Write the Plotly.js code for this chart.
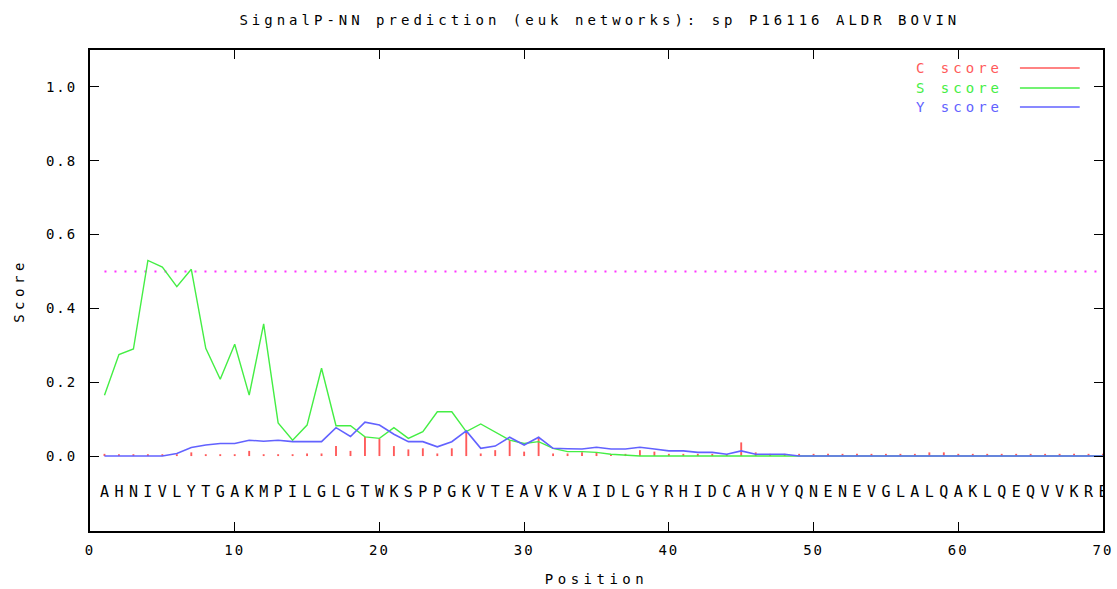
<!DOCTYPE html>
<html><head><meta charset="utf-8">
<script src="https://cdn.plot.ly/plotly-3.0.1.min.js"></script>
<style>
html,body{margin:0;padding:0;background:#fff;}
#chart{width:1117px;height:589px;}
.gtitle{letter-spacing:4px;}
.xtitle,.ytitle{letter-spacing:4.5px;}
.xtick text,.ytick text{letter-spacing:2px;}
.annotation-text{letter-spacing:4px;}
</style>
</head><body><div id="chart"></div>
<script>
const residues = "AHNIVLYTGAKMPILGLGTWKSPPGKVTEAVKVAIDLGYRHIDCAHVYQNENEVGLALQAKLQEQVVKRE".split("");
const positions = residues.map((_, i) => i + 1);

const cScore = [0.006,0.005,0.005,0.005,0.005,0.005,0.010,0.005,0.005,0.005,
                0.014,0.005,0.005,0.005,0.007,0.007,0.027,0.014,0.052,0.047,
                0.027,0.018,0.021,0.007,0.021,0.066,0.007,0.016,0.043,0.012,
                0.052,0.007,0.007,0.010,0.010,0.004,0.006,0.016,0.012,0.006,
                0.006,0.006,0.006,0.005,0.037,0.010,0.006,0.006,0.006,0.006,
                0.006,0.006,0.006,0.006,0.006,0.006,0.006,0.010,0.010,0.006,
                0.006,0.006,0.006,0.006,0.006,0.006,0.006,0.006,0.006,0.006];
const sScore = [0.165,0.275,0.290,0.530,0.512,0.459,0.506,0.292,0.208,0.303,
                0.165,0.358,0.090,0.043,0.084,0.238,0.082,0.082,0.052,0.048,
                0.077,0.048,0.066,0.120,0.120,0.066,0.087,0.066,0.043,0.034,
                0.039,0.021,0.012,0.012,0.010,0.005,0.002,0,0,0,
                0,0,0,0,0,0,0,0,0,0,
                0,0,0,0,0,0,0,0,0,0,
                0,0,0,0,0,0,0,0,0,0];
const yScore = [0,0,0,0,0,0.007,0.023,0.030,0.034,0.034,
                0.043,0.040,0.043,0.039,0.039,0.039,0.077,0.053,0.092,0.084,
                0.059,0.039,0.039,0.025,0.039,0.068,0.021,0.027,0.051,0.030,
                0.051,0.021,0.020,0.019,0.024,0.019,0.019,0.024,0.019,0.014,
                0.014,0.010,0.010,0.005,0.014,0.005,0.005,0.005,0,0,
                0,0,0,0,0,0,0,0,0,0,
                0,0,0,0,0,0,0,0,0,0];
const cutoff = 0.5;
const seqLabelY = -0.1;
const xTicks = [0,10,20,30,40,50,60,70];
const yTicks = [0,0.2,0.4,0.6,0.8,1.0];
const seriesNames = ["C score","S score","Y score"];
const seriesColors = ["#ff5a5a","#44ee44","#6262ff"];

const mono = "DejaVu Sans Mono, monospace";

const traces = [
  {type:"bar", x:positions, y:cScore, width:0.13, marker:{color:seriesColors[0], line:{width:0}}, name:seriesNames[0], hoverinfo:"x+y"},
  {type:"scatter", mode:"lines", x:[positions[0], positions[positions.length-1]], y:[cutoff, cutoff],
   line:{color:"#ff33ff", width:2, dash:"2px,8px"}, hoverinfo:"skip"},
  {type:"scatter", mode:"lines", x:positions, y:sScore, line:{color:seriesColors[1], width:1.4}, name:seriesNames[1]},
  {type:"scatter", mode:"lines", x:positions, y:yScore, line:{color:seriesColors[2], width:1.6}, name:seriesNames[2]},
  {type:"scatter", mode:"text", x:positions, y:positions.map(() => seqLabelY), text:residues,
   textfont:{family:mono, size:15, color:"#000"}, textposition:"middle center", hoverinfo:"skip"}
];

const legendY = [0.9626, 0.921, 0.8815];
const annotations = seriesNames.map((n, i) => ({
  xref:"paper", yref:"paper", x:0.903, y:legendY[i], xanchor:"right", yanchor:"middle",
  text:n, showarrow:false, font:{family:mono, size:14, color:seriesColors[i]}
}));
const shapes = seriesNames.map((n, i) => ({
  type:"line", xref:"paper", yref:"paper", x0:0.918, x1:0.977, y0:legendY[i], y1:legendY[i],
  line:{color:seriesColors[i], width:1.5}
}));

const layout = {
  width:1117, height:589,
  margin:{l:90, r:14, t:50, b:58},
  paper_bgcolor:"#fff", plot_bgcolor:"#fff",
  showlegend:false,
  barmode:"overlay",
  title:{text:"SignalP-NN prediction (euk networks): sp P16116 ALDR BOVIN", xref:"container", x:0.537, xanchor:"center",
         yref:"container", y:0.966, yanchor:"middle", font:{family:mono, size:14, color:"#000"}},
  xaxis:{range:[0,70], tickvals:xTicks, ticktext:xTicks.map(String), ticks:"inside", ticklen:9, tickwidth:1, tickcolor:"#000",
         showline:true, linecolor:"#000", linewidth:2, mirror:"ticks", showgrid:false, zeroline:false,
         tickfont:{family:mono, size:14, color:"#000"}, ticklabelstandoff:5,
         title:{text:"Position", font:{family:mono, size:14, color:"#000"}, standoff:17}},
  yaxis:{range:[-0.203,1.1], tickvals:yTicks, ticktext:yTicks.map(v => v.toFixed(1)), ticks:"inside", ticklen:9, tickwidth:1, tickcolor:"#000",
         showline:true, linecolor:"#000", linewidth:2, mirror:"ticks", showgrid:false, zeroline:false,
         tickfont:{family:mono, size:14, color:"#000"}, ticklabelstandoff:8,
         title:{text:"Score", font:{family:mono, size:14, color:"#000"}, standoff:18}},
  annotations:annotations,
  shapes:shapes
};

Plotly.newPlot("chart", traces, layout, {displayModeBar:false, staticPlot:true});
</script>
</body></html>
